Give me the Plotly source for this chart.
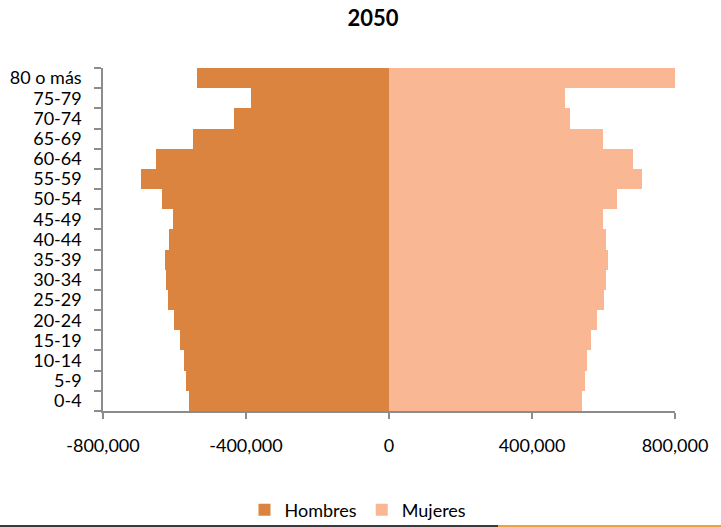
import plotly.graph_objects as go

# Grupos de edad (de abajo hacia arriba) y población proyectada 2050
grupos = ["0-4", "5-9", "10-14", "15-19", "20-24", "25-29", "30-34", "35-39",
          "40-44", "45-49", "50-54", "55-59", "60-64", "65-69", "70-74",
          "75-79", "80 o más"]
hombres = [559000, 568000, 573000, 584500, 601000, 618000, 624000, 626500,
           615000, 604000, 635000, 694000, 652000, 548000, 433500, 386000, 537000]
mujeres = [540000, 548000, 554000, 565000, 582000, 601000, 607000, 612500,
           607000, 598500, 637700, 707600, 682500, 598500, 506000, 492000, 800000]

eje_x_vals = [-800000, -400000, 0, 400000, 800000]
eje_x_text = ["-800,000", "-400,000", "0", "400,000", "800,000"]

color_h = "#DA843F"
color_m = "#F9B793"
gris = "#8C8C8C"
fuente = "Lato"

fig = go.Figure()
fig.add_trace(go.Bar(
    y=grupos, x=[-v for v in hombres], orientation="h", name="Hombres",
    marker=dict(color=color_h, line=dict(width=0)),
))
fig.add_trace(go.Bar(
    y=grupos, x=mujeres, orientation="h", name="Mujeres",
    marker=dict(color=color_m, line=dict(width=0)),
))

L, R, T, B = 103, 46, 68, 116
W, H = 721, 527
pw, ph = W - L - R, H - T - B

def px_x(p):
    return (p - L) / pw

def px_y(p):
    return (H - B - p) / ph

fig.update_layout(
    width=W, height=H,
    margin=dict(l=L, r=R, t=T, b=B, autoexpand=False),
    barmode="relative", bargap=0,
    plot_bgcolor="white", paper_bgcolor="white",
    font=dict(family=fuente, color="#000000", size=18),
    title=dict(text="<b>2050</b>", x=px_x(373), xref="paper", xanchor="center",
               y=1 - 18 / H, yanchor="middle",
               font=dict(family=fuente, size=22, color="#000000")),
    xaxis=dict(
        range=[-800000, 800000], tickmode="array", tickvals=eje_x_vals,
        ticktext=eje_x_text,
        showgrid=False, zeroline=False, showline=True, linecolor=gris,
        linewidth=1.5, ticks="outside", ticklen=6, tickcolor=gris, tickwidth=1.5,
        ticklabelstandoff=12, tickfont=dict(size=18), fixedrange=True,
    ),
    yaxis=dict(
        type="category", tickmode="array", tickvals=grupos,
        showgrid=False, zeroline=False, showline=True,
        linecolor=gris, linewidth=1.5, ticks="outside", ticklen=7,
        tickcolor=gris, tickwidth=1.5, tickson="boundaries",
        ticklabelstandoff=16, tickfont=dict(size=18),
    ),
    legend=dict(orientation="h", x=px_x(358), xanchor="center",
                y=px_y(510), yanchor="middle", bgcolor="rgba(0,0,0,0)",
                font=dict(size=18), traceorder="normal"),
    showlegend=True,
    shapes=[
        dict(type="rect", xref="paper", yref="paper",
             x0=px_x(0), x1=px_x(498), y0=px_y(527), y1=px_y(525),
             fillcolor="#3A3A3A", line=dict(width=0), layer="above"),
        dict(type="rect", xref="paper", yref="paper",
             x0=px_x(498), x1=px_x(721), y0=px_y(527), y1=px_y(525),
             fillcolor="#F0A040", line=dict(width=0), layer="above"),
    ],
)

fig.write_html("out.html")
